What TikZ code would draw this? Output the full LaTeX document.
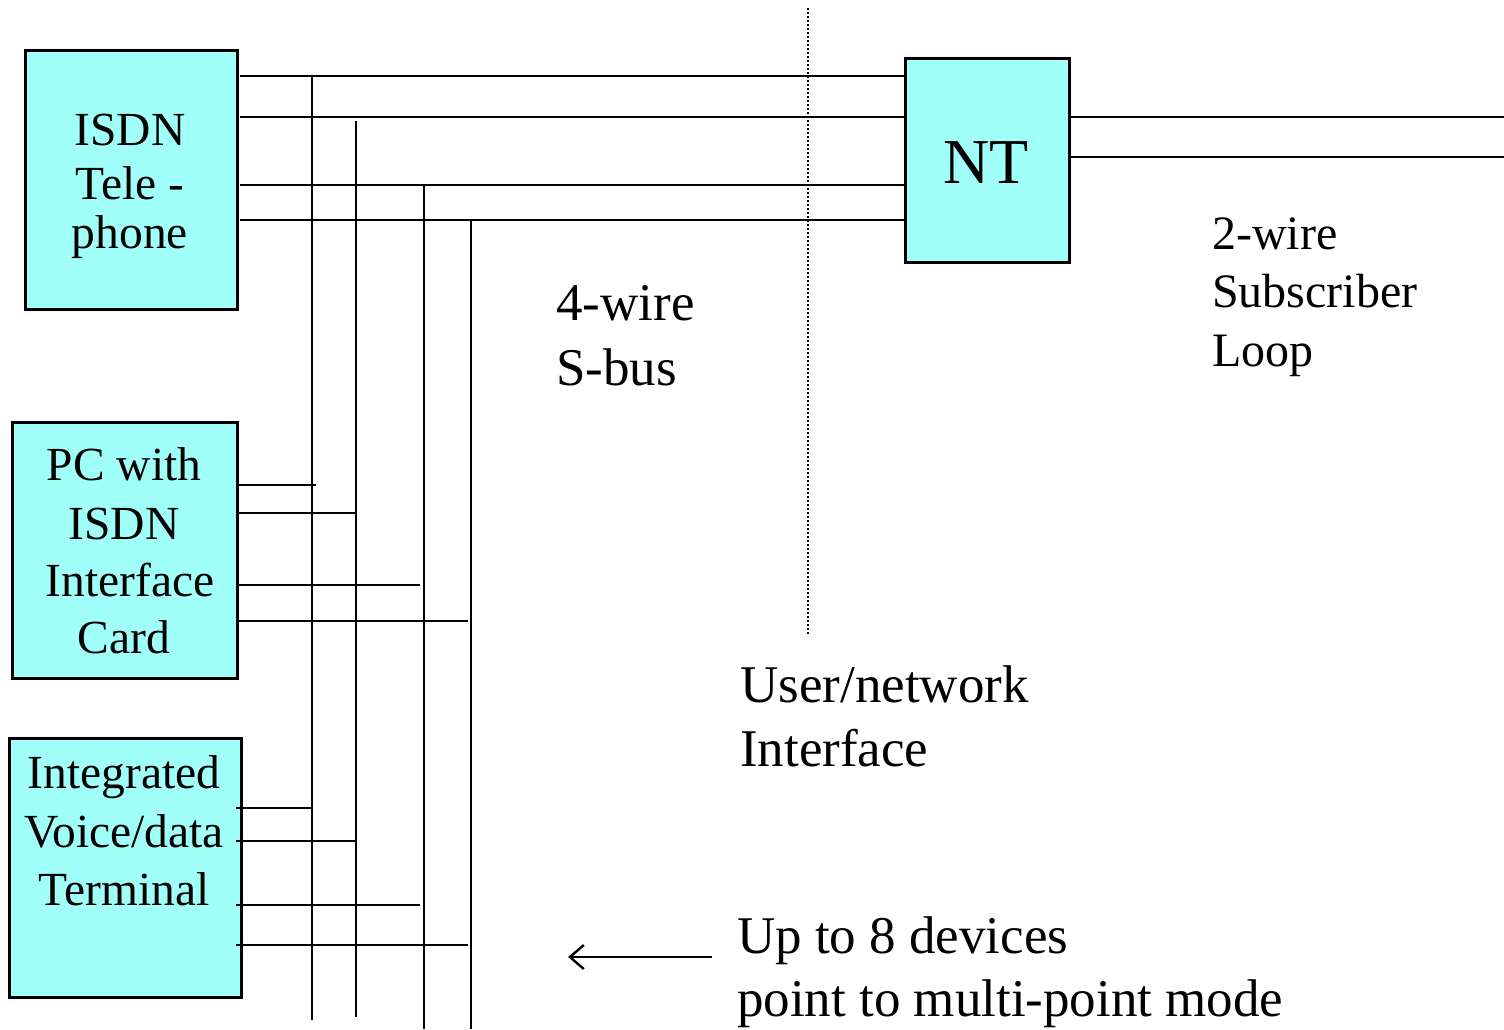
\documentclass[tikz,border=0pt]{standalone}
\usepackage{fontspec}
\setmainfont{Liberation Serif}
\usetikzlibrary{arrows.meta}
\definecolor{devfill}{RGB}{161,255,250}
\begin{document}
\begin{tikzpicture}[x=1pt,y=-1pt,
  dev/.style={draw=black,line width=2.8pt,fill=devfill,inner sep=0pt,anchor=north west},
  wire/.style={line width=2.8pt,line cap=butt},
  lbl/.style={font=\fontsize{53}{63}\selectfont,inner sep=0pt,anchor=base west},
  lblsm/.style={font=\fontsize{48}{58}\selectfont,inner sep=0pt,anchor=base west},
  boxtxt/.style={font=\fontsize{47.5}{57}\selectfont,inner sep=0pt,anchor=base}]
\useasboundingbox (0,0) rectangle (1504,1029);

% devices and network termination
\node[dev,minimum width=212pt,minimum height=259pt] (tel) at (24,49) {};
\node[dev,minimum width=225pt,minimum height=256pt] (pc) at (11,421) {};
\node[dev,minimum width=232pt,minimum height=259pt] (ivd) at (8,737) {};
\node[dev,minimum width=164pt,minimum height=204pt] (nt) at (904,57) {};

% box labels
\node[boxtxt] (t1) at (130,145) {ISDN};
\node[boxtxt] (t2) at (130,199) {Tele -};
\node[boxtxt] (t3) at (130,248) {phone};
\node[boxtxt] (p1) at (124,480) {PC with};
\node[boxtxt] (p2) at (124,539) {ISDN};
\node[boxtxt] (p3) at (130,596) {Interface};
\node[boxtxt] (p4) at (124,653) {Card};
\node[boxtxt] (v1) at (124,788) {Integrated};
\node[boxtxt] (v2) at (124,847) {Voice/data};
\node[boxtxt] (v3) at (124,905) {Terminal};
\node[font=\fontsize{64}{70}\selectfont,inner sep=0pt,anchor=base] (ntl) at (986,183) {NT};

% S-bus wires: corners where each wire turns down, and their lower ends
\coordinate (a0) at (240,76);  \coordinate (a1) at (312,76);  \coordinate (a2) at (312,1020);
\coordinate (b0) at (240,117); \coordinate (b1) at (356,121); \coordinate (b2) at (356,1017);
\coordinate (c0) at (240,185); \coordinate (c1) at (424,185); \coordinate (c2) at (424,1029);
\coordinate (d0) at (240,220); \coordinate (d1) at (471,221); \coordinate (d2) at (471,1029);

\draw[wire] (a0) -- (nt.west |- a0);
\draw[wire] (b0) -- (nt.west |- b0);
\draw[wire] (c0) -- (nt.west |- c0);
\draw[wire] (d0) -- (nt.west |- d0);
\draw[wire] (a1) -- (a2);
\draw[wire] (b1) -- (b2);
\draw[wire] (c1) -- (c2);
\draw[wire] (d1) -- (d2);

% taps from the PC card
\draw[wire] (pc.east |- 0,485) -- (316,485);
\draw[wire] (pc.east |- 0,513) -- (b1 |- 0,513);
\draw[wire] (pc.east |- 0,585) -- (420,585);
\draw[wire] (pc.east |- 0,621) -- (468,621);

% taps from the voice/data terminal
\draw[wire] (236,808) -- (a1 |- 0,808);
\draw[wire] (236,841) -- (b1 |- 0,841);
\draw[wire] (236,905) -- (420,905);
\draw[wire] (236,945) -- (468,945);

% 2-wire subscriber loop
\coordinate (l1) at (1504,117);
\coordinate (l2) at (1504,157);
\draw[wire] (nt.east |- l1) -- (l1);
\draw[wire] (nt.east |- l2) -- (l2);

% user/network interface boundary
\coordinate (u0) at (808,8);
\coordinate (u1) at (808,635);
\draw[line width=2pt,dotted] (u0) -- (u1);

% annotations
\node[lbl] (s1) at (556,320) {4-wire};
\node[lbl] (s2) at (556,385) {S-bus};
\node[lblsm] (w1) at (1212,249) {2-wire};
\node[lblsm] (w2) at (1212,307) {Subscriber};
\node[lblsm] (w3) at (1212,366) {Loop};
\node[lbl] (i1) at (740,702) {User/network};
\node[lbl] (i2) at (740,766) {Interface};
\node[lbl] (m1) at (737,953) {Up to 8 devices};
\node[lbl] (m2) at (737,1016) {point to multi-point mode};

\coordinate (ar0) at (712,957);
\coordinate (ar1) at (568,957);
\draw[line width=2.4pt,-{Straight Barb[length=14pt,width=24pt,line width=2.4pt]}] (ar0) -- (ar1);
\end{tikzpicture}
\end{document}
